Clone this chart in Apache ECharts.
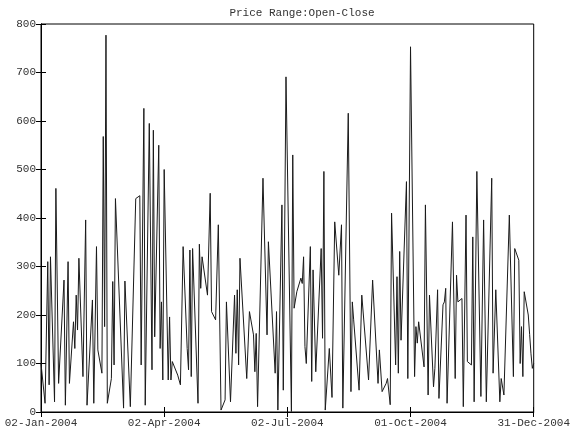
<!DOCTYPE html>
<html>
<head>
<meta charset="utf-8">
<script src="https://cdn.jsdelivr.net/npm/echarts@6/dist/echarts.min.js"></script>
<style>
  html, body { margin: 0; padding: 0; background: #fff; }
  #chart { width: 573px; height: 434px; }
</style>
</head>
<body>
<div id="chart"></div>
<script>
// Daily price range (|open - close|) over 2004, one entry per session date
var tradeDates = [
  '2004-01-02','2004-01-05','2004-01-07','2004-01-08','2004-01-09','2004-01-12','2004-01-13','2004-01-15',
  '2004-01-19','2004-01-20','2004-01-22','2004-01-23','2004-01-26','2004-01-27','2004-01-28','2004-01-29','2004-01-30',
  '2004-02-02','2004-02-04','2004-02-05','2004-02-09','2004-02-10','2004-02-12','2004-02-13','2004-02-16',
  '2004-02-17','2004-02-18','2004-02-19','2004-02-20','2004-02-23','2004-02-24','2004-02-25','2004-02-26',
  '2004-03-03','2004-03-04','2004-03-08','2004-03-12','2004-03-15','2004-03-16','2004-03-18','2004-03-19',
  '2004-03-22','2004-03-24','2004-03-25','2004-03-26','2004-03-29','2004-03-30','2004-03-31',
  '2004-04-01','2004-04-02','2004-04-05','2004-04-06','2004-04-07','2004-04-08','2004-04-12','2004-04-14',
  '2004-04-16','2004-04-19','2004-04-20','2004-04-21','2004-04-22','2004-04-23','2004-04-27','2004-04-28',
  '2004-04-29','2004-04-30',
  '2004-05-04','2004-05-06','2004-05-07','2004-05-10','2004-05-12','2004-05-14','2004-05-17','2004-05-18',
  '2004-05-21','2004-05-24','2004-05-25','2004-05-26','2004-05-27','2004-05-28',
  '2004-06-02','2004-06-04','2004-06-07','2004-06-08','2004-06-09','2004-06-10','2004-06-14','2004-06-17',
  '2004-06-18','2004-06-23','2004-06-24','2004-06-25','2004-06-28','2004-06-29',
  '2004-07-01','2004-07-05','2004-07-06','2004-07-07','2004-07-09','2004-07-12','2004-07-13','2004-07-14',
  '2004-07-15','2004-07-16','2004-07-19','2004-07-20','2004-07-21','2004-07-23','2004-07-27','2004-07-28',
  '2004-07-29','2004-07-30',
  '2004-08-02','2004-08-03','2004-08-04','2004-08-06','2004-08-09','2004-08-11','2004-08-12','2004-08-16',
  '2004-08-18','2004-08-19','2004-08-20','2004-08-24','2004-08-26','2004-08-27','2004-08-31',
  '2004-09-03','2004-09-07','2004-09-08','2004-09-10','2004-09-13','2004-09-14','2004-09-16','2004-09-17',
  '2004-09-20','2004-09-21','2004-09-22','2004-09-23','2004-09-24','2004-09-28','2004-09-29',
  '2004-10-01','2004-10-04','2004-10-05','2004-10-06','2004-10-07','2004-10-11','2004-10-12','2004-10-13',
  '2004-10-14','2004-10-15','2004-10-18','2004-10-19','2004-10-21','2004-10-22','2004-10-25','2004-10-26',
  '2004-10-27','2004-10-28',
  '2004-11-01','2004-11-03','2004-11-04','2004-11-05','2004-11-08','2004-11-09','2004-11-11','2004-11-12',
  '2004-11-15','2004-11-16','2004-11-17','2004-11-19','2004-11-22','2004-11-24','2004-11-26','2004-11-30',
  '2004-12-01','2004-12-03','2004-12-06','2004-12-07','2004-12-09','2004-12-13','2004-12-16','2004-12-17',
  '2004-12-20','2004-12-21','2004-12-22','2004-12-23','2004-12-24','2004-12-27','2004-12-28','2004-12-29',
  '2004-12-30','2004-12-31'
];

var openCloseRange = [
  100, 18, 310, 56, 320, 21, 461, 59,
  272, 14, 310, 59, 186, 131, 241, 169, 317,
  73, 396, 14, 231, 18, 341, 128, 80,
  568, 176, 777, 18, 69, 269, 97, 440,
  8, 270, 11, 440, 446, 97, 626, 14,
  595, 87, 581, 155, 550, 131, 227,
  66, 500, 66, 196, 66, 104, 76, 56,
  341, 131, 87, 334, 73, 337, 18, 346,
  255, 320,
  241, 451, 207, 190, 386, 4, 25, 227,
  21, 241, 121, 252, 97, 317,
  69, 207, 159, 83, 162, 11, 482, 159,
  351, 80, 207, 4, 427, 45,
  691, 1, 530, 214, 248, 276, 265, 320,
  135, 100, 341, 63, 293, 83, 337, 152,
  496, 4,
  131, 128, 30, 392, 282, 386, 8, 616,
  42, 227, 190, 45, 241, 238, 66,
  272, 59, 128, 42, 59, 69, 15, 410,
  97, 279, 80, 331, 148, 475, 69,
  753, 73, 176, 142, 186, 93, 427, 423,
  35, 241, 52, 90, 252, 28, 221, 227,
  255, 18,
  392, 69, 282, 227, 234, 11, 406, 104,
  97, 361, 21, 496, 32, 396, 21, 482,
  80, 252, 21, 69, 35, 406, 73, 337,
  313, 100, 176, 73, 248, 200, 160, 120,
  90, 100
];

var xTickLabels = ['02-Jan-2004', '02-Apr-2004', '02-Jul-2004', '01-Oct-2004', '31-Dec-2004'];
var yTicks = [0, 100, 200, 300, 400, 500, 600, 700, 800];

// x is measured in calendar days from the first date
var DAY = 86400000;
var origin = Date.UTC(2004, 0, 2);
function dayOffset(s) {
  var p = s.split('-');
  return (Date.UTC(+p[0], +p[1] - 1, +p[2]) - origin) / DAY;
}
var points = tradeDates.map(function (d, i) { return [dayOffset(d), openCloseRange[i]]; });

var lastDay = dayOffset('2004-12-31');
var tickStep = lastDay / (xTickLabels.length - 1);

var font = "'Liberation Mono', 'DejaVu Sans Mono', monospace";
var textColor = '#333';

var tickStyle = { show: true, inside: true, length: 5, lineStyle: { color: '#000', width: 1 } };
var lineStyleAxis = { show: true, lineStyle: { color: '#000', width: 1 } };

var chart = echarts.init(document.getElementById('chart'), null, { renderer: 'canvas' });
chart.setOption({
  animation: false,
  backgroundColor: '#fff',
  title: {
    text: 'Price Range:Open-Close',
    left: 297,
    top: 3,
    textAlign: 'center',
    textStyle: { fontFamily: font, fontSize: 11, fontWeight: 'normal', color: textColor }
  },
  grid: { left: 41, right: 39, top: 24, bottom: 22, show: true, borderColor: '#000', borderWidth: 1, backgroundColor: '#fff' },
  xAxis: [
    {
      type: 'value', min: 0, max: lastDay, interval: tickStep,
      axisLine: lineStyleAxis, axisTick: tickStyle, splitLine: { show: false },
      axisLabel: {
        fontFamily: font, fontSize: 11, color: textColor, margin: 6,
        formatter: function (v) { return xTickLabels[Math.round(v / tickStep)] || ''; }
      }
    },
    {
      type: 'value', position: 'top', min: 0, max: lastDay, interval: tickStep,
      axisLine: lineStyleAxis, axisTick: tickStyle, splitLine: { show: false }, axisLabel: { show: false }
    }
  ],
  yAxis: [
    {
      type: 'value', min: yTicks[0], max: yTicks[yTicks.length - 1], interval: yTicks[1] - yTicks[0],
      axisLine: lineStyleAxis, axisTick: tickStyle, splitLine: { show: false },
      axisLabel: { fontFamily: font, fontSize: 11, color: textColor, margin: 5 }
    },
    {
      type: 'value', position: 'right', min: yTicks[0], max: yTicks[yTicks.length - 1], interval: yTicks[1] - yTicks[0],
      axisLine: lineStyleAxis, axisTick: tickStyle, splitLine: { show: false }, axisLabel: { show: false }
    }
  ],
  series: [{
    type: 'line',
    xAxisIndex: 0,
    yAxisIndex: 0,
    data: points,
    showSymbol: false,
    symbol: 'none',
    lineStyle: { color: '#1a1a1a', width: 1 }
  }]
});
</script>
</body>
</html>
